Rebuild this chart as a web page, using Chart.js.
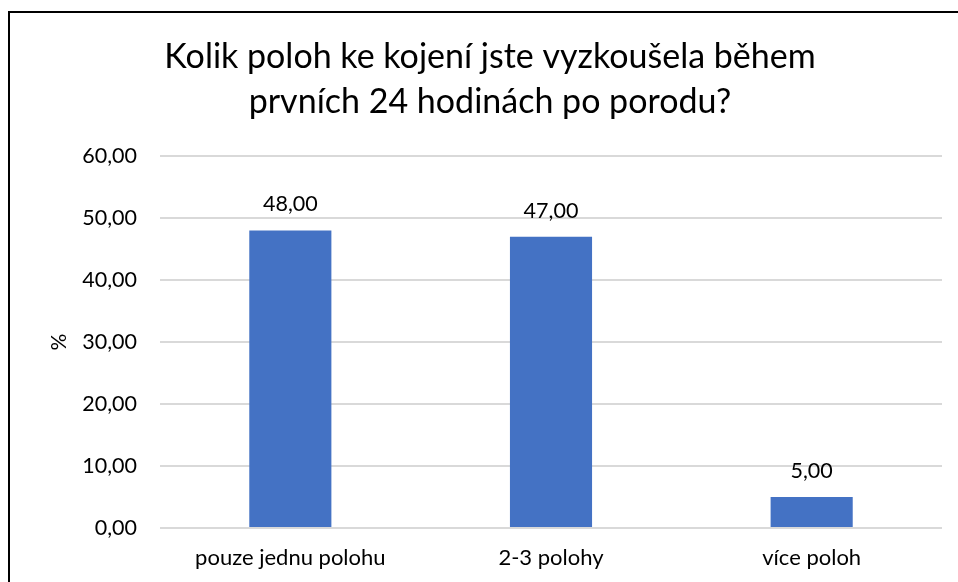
<!DOCTYPE html>
<html>
<head>
<meta charset="utf-8">
<script src="https://cdn.jsdelivr.net/npm/chart.js@4"></script>
<style>
    html, body { margin: 0; padding: 0; background: #fff; overflow: hidden; }
    #frame {
        position: absolute; left: 8px; top: 11px;
        width: 1100px; height: 700px;
        border: 2px solid #000;
    }
    #wrap { position: absolute; left: 0; top: 0; width: 958px; height: 582px; }
</style>
</head>
<body>
<div id="frame"></div>
<div id="wrap"><canvas id="chart" width="958" height="582"></canvas></div>
<script>
// 数据
const categories = ['pouze jednu polohu', '2-3 polohy', 'více poloh'];
const values = [48, 47, 5];
const titleLines = ['Kolik poloh ke kojení jste vyzkoušela během', 'prvních 24 hodinách po porodu?'];
const yTicks = [0, 10, 20, 30, 40, 50, 60];
const yLabel = '%';

const FONT = 'Lato, "Open Sans", sans-serif';

function formatNum(v) {
    return v.toFixed(2).replace('.', ',');
}

// 柱顶数值标签
const valueLabels = {
    id: 'valueLabels',
    afterDatasetsDraw(chart) {
        const ctx = chart.ctx;
        const meta = chart.getDatasetMeta(0);
        ctx.save();
        ctx.font = '21.5px ' + FONT;
        ctx.fillStyle = '#000';
        ctx.textAlign = 'center';
        ctx.textBaseline = 'middle';
        meta.data.forEach((bar, i) => {
            ctx.fillText(formatNum(values[i]), bar.x, bar.y - 26);
        });
        ctx.restore();
    }
};

new Chart(document.getElementById('chart'), {
    type: 'bar',
    data: {
        labels: categories,
        datasets: [{
            data: values,
            backgroundColor: '#4472C4',
            categoryPercentage: 1,
            barPercentage: 0.315
        }]
    },
    options: {
        responsive: false,
        animation: false,
        layout: { padding: { left: 38, right: 16, top: 34, bottom: 0 } },
        plugins: {
            legend: { display: false },
            tooltip: { enabled: false },
            title: {
                display: true,
                text: titleLines,
                color: '#000',
                font: { family: FONT, size: 34, weight: 'normal', lineHeight: 1.34 },
                padding: { top: 0, bottom: 31 }
            }
        },
        scales: {
            x: {
                grid: { display: false },
                border: { display: false },
                ticks: {
                    color: '#000',
                    font: { family: FONT, size: 22 },
                    padding: 9,
                    maxRotation: 0
                },
                afterFit(scale) { scale.height = 54; }
            },
            y: {
                min: 0,
                max: 60,
                afterBuildTicks(scale) {
                    scale.ticks = yTicks.map(v => ({ value: v }));
                },
                grid: { color: '#d9d9d9', lineWidth: 2, drawTicks: false },
                border: { display: false },
                ticks: {
                    color: '#000',
                    font: { family: FONT, size: 21.5 },
                    padding: 23,
                    callback: v => formatNum(v)
                },
                title: {
                    display: true,
                    text: yLabel,
                    color: '#000',
                    font: { family: FONT, size: 21 },
                    padding: { top: 9, bottom: 0 }
                },
                afterFit(scale) { scale.width = 122; }
            }
        }
    },
    plugins: [valueLabels]
});
</script>
</body>
</html>
